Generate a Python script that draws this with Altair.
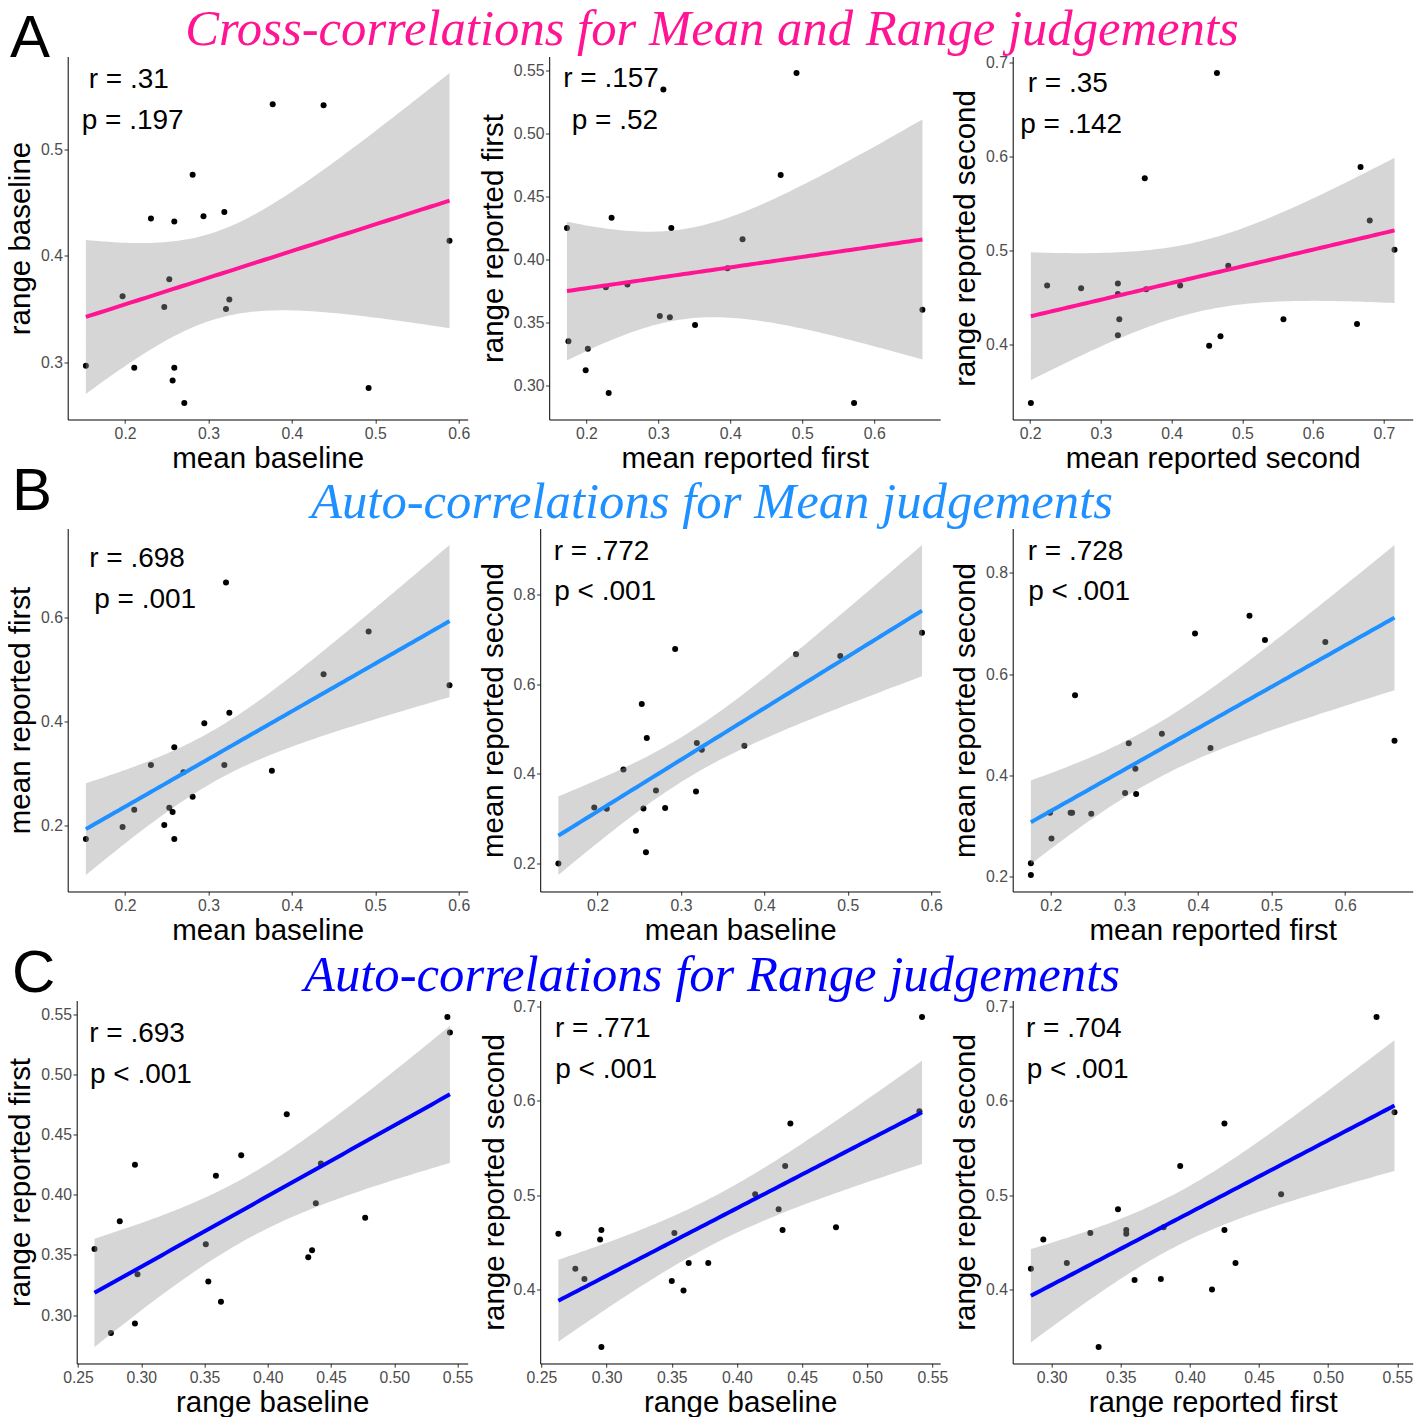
import numpy as np
import pandas as pd
import altair as alt

# ---------------- data ----------------
a1_x = [0.377, 0.438, 0.281, 0.231, 0.259, 0.294, 0.319, 0.589, 0.253, 0.197, 0.247, 0.321, 0.325, 0.153, 0.211, 0.259, 0.257, 0.271, 0.492]
a1_y = [0.542, 0.541, 0.476, 0.435, 0.432, 0.437, 0.441, 0.414, 0.378, 0.362, 0.352, 0.350, 0.359, 0.297, 0.295, 0.295, 0.283, 0.262, 0.276]

a2_x = [0.492, 0.307, 0.470, 0.235, 0.173, 0.318, 0.417, 0.396, 0.227, 0.257, 0.667, 0.302, 0.316, 0.351, 0.175, 0.202, 0.199, 0.231, 0.572]
a2_y = [0.548, 0.535, 0.467, 0.433, 0.425, 0.425, 0.416, 0.393, 0.378, 0.380, 0.360, 0.355, 0.354, 0.348, 0.335, 0.329, 0.312, 0.294, 0.286]

a3_x = [0.464, 0.667, 0.362, 0.680, 0.715, 0.480, 0.224, 0.272, 0.324, 0.324, 0.364, 0.412, 0.326, 0.558, 0.662, 0.324, 0.469, 0.453, 0.201]
a3_y = [0.689, 0.589, 0.577, 0.532, 0.501, 0.484, 0.463, 0.460, 0.465, 0.454, 0.459, 0.463, 0.427, 0.427, 0.422, 0.410, 0.409, 0.399, 0.338]

b1_x = [0.321, 0.492, 0.438, 0.589, 0.325, 0.295, 0.259, 0.231, 0.319, 0.270, 0.376, 0.281, 0.253, 0.211, 0.257, 0.197, 0.247, 0.153, 0.259]
b1_y = [0.667, 0.573, 0.491, 0.470, 0.417, 0.397, 0.351, 0.317, 0.317, 0.303, 0.306, 0.256, 0.235, 0.231, 0.227, 0.198, 0.202, 0.175, 0.175]

b2_x = [0.589, 0.293, 0.438, 0.491, 0.253, 0.259, 0.319, 0.325, 0.376, 0.231, 0.270, 0.318, 0.196, 0.211, 0.255, 0.281, 0.246, 0.258, 0.153]
b2_y = [0.715, 0.679, 0.667, 0.663, 0.556, 0.480, 0.469, 0.454, 0.463, 0.410, 0.363, 0.361, 0.325, 0.322, 0.323, 0.324, 0.273, 0.225, 0.200]

b3_x = [0.470, 0.396, 0.491, 0.573, 0.233, 0.351, 0.306, 0.417, 0.667, 0.315, 0.301, 0.316, 0.199, 0.227, 0.229, 0.255, 0.201, 0.173, 0.173]
b3_y = [0.715, 0.680, 0.667, 0.663, 0.558, 0.482, 0.463, 0.454, 0.468, 0.413, 0.365, 0.363, 0.326, 0.326, 0.326, 0.324, 0.275, 0.226, 0.203]

c1_x = [0.542, 0.544, 0.415, 0.379, 0.295, 0.442, 0.359, 0.438, 0.283, 0.477, 0.263, 0.351, 0.435, 0.432, 0.297, 0.353, 0.363, 0.295, 0.276]
c1_y = [0.548, 0.535, 0.467, 0.433, 0.425, 0.426, 0.416, 0.393, 0.378, 0.381, 0.355, 0.359, 0.354, 0.348, 0.334, 0.328, 0.311, 0.293, 0.285]

c2_x = [0.542, 0.441, 0.540, 0.437, 0.414, 0.432, 0.476, 0.435, 0.263, 0.296, 0.295, 0.352, 0.363, 0.378, 0.276, 0.283, 0.350, 0.359, 0.296]
c2_y = [0.689, 0.576, 0.589, 0.531, 0.501, 0.485, 0.466, 0.463, 0.459, 0.463, 0.453, 0.460, 0.428, 0.428, 0.422, 0.411, 0.409, 0.399, 0.339]

c3_x = [0.535, 0.548, 0.425, 0.393, 0.466, 0.348, 0.425, 0.294, 0.328, 0.354, 0.354, 0.381, 0.311, 0.433, 0.285, 0.360, 0.379, 0.416, 0.334]
c3_y = [0.689, 0.588, 0.576, 0.531, 0.501, 0.485, 0.463, 0.453, 0.460, 0.463, 0.459, 0.466, 0.428, 0.428, 0.422, 0.410, 0.411, 0.400, 0.339]

r_labels = ["r = .31", "r = .157", "r = .35", "r = .698", "r = .772", "r = .728", "r = .693", "r = .771", "r = .704"]
p_labels = ["p = .197", "p = .52", "p = .142", "p = .001", "p < .001", "p < .001", "p < .001", "p < .001", "p < .001"]

x_titles = ["mean baseline", "mean reported first", "mean reported second",
            "mean baseline", "mean baseline", "mean reported first",
            "range baseline", "range baseline", "range reported first"]
y_titles = ["range baseline", "range reported first", "range reported second",
            "mean reported first", "mean reported second", "mean reported second",
            "range reported first", "range reported second", "range reported second"]

row_titles = ["Cross-correlations for Mean and Range judgements",
              "Auto-correlations for Mean judgements",
              "Auto-correlations for Range judgements"]
row_letters = ["A", "B", "C"]

ticks_tenths_6 = [0.2, 0.3, 0.4, 0.5, 0.6]
ticks_tenths_7 = [0.2, 0.3, 0.4, 0.5, 0.6, 0.7]
ticks_y_a1 = [0.3, 0.4, 0.5]
ticks_twentieths = [0.25, 0.30, 0.35, 0.40, 0.45, 0.50, 0.55]
ticks_fifths = [0.2, 0.4, 0.6, 0.8]
ticks_y_upper = [0.4, 0.5, 0.6, 0.7]

# ---------------- styling / layout ----------------
W, H = 400, 363
T_CRIT = 2.109816  # t quantile 0.975, df = 17
row_colors = ["#FF1493", "#1E90FF", "#0000FF"]

panels = [
    dict(x=a1_x, y=a1_y, xt=ticks_tenths_6, xf=".1f", yt=ticks_y_a1, yf=".1f", xoff=0, ytx=-38, r=(21, 31.5), p=(14, 72)),
    dict(x=a2_x, y=a2_y, xt=ticks_tenths_6, xf=".1f", yt=ticks_twentieths, yf=".2f", xoff=9, ytx=-47, r=(14, 30.5), p=(22.5, 72)),
    dict(x=a3_x, y=a3_y, xt=ticks_tenths_7, xf=".1f", yt=ticks_y_upper, yf=".1f", xoff=0, ytx=-38.5, r=(15, 35.5), p=(7.5, 76.5)),
    dict(x=b1_x, y=b1_y, xt=ticks_tenths_6, xf=".1f", yt=ticks_fifths, yf=".1f", xoff=0, ytx=-38.5, r=(21.5, 38.8), p=(26.5, 79.8)),
    dict(x=b2_x, y=b2_y, xt=ticks_tenths_6, xf=".1f", yt=ticks_fifths, yf=".1f", xoff=0, ytx=-37.5, r=(13.5, 31.5), p=(14, 71.5)),
    dict(x=b3_x, y=b3_y, xt=ticks_tenths_6, xf=".1f", yt=ticks_fifths, yf=".1f", xoff=0, ytx=-38.5, r=(15, 31.5), p=(15.5, 71.5)),
    dict(x=c1_x, y=c1_y, xt=ticks_twentieths, xf=".2f", yt=ticks_twentieths, yf=".2f", xoff=9, ytx=-47.5, r=(12.5, 41.2), p=(13.3, 82.8)),
    dict(x=c2_x, y=c2_y, xt=ticks_twentieths, xf=".2f", yt=ticks_y_upper, yf=".1f", xoff=0, ytx=-37, r=(14.7, 36.2), p=(15, 77.2)),
    dict(x=c3_x, y=c3_y, xt=ticks_twentieths, xf=".2f", yt=ticks_y_upper, yf=".1f", xoff=0, ytx=-38.5, r=(13.3, 36.2), p=(14, 77.2)),
]
letter_pos = [(-57.7, 0.5), (-55.7, -18.5), (-55.7, -8.5)]
title_pos = [(171.8, -11.5), (171.8, -10.5), (171.8, -9.0)]


def smooth(x, y, n=80):
    x = np.asarray(x, float)
    y = np.asarray(y, float)
    b1, b0 = np.polyfit(x, y, 1)
    xg = np.linspace(x.min(), x.max(), n)
    fit = b0 + b1 * xg
    resid = y - (b0 + b1 * x)
    s = np.sqrt((resid ** 2).sum() / (len(x) - 2))
    se = s * np.sqrt(1.0 / len(x) + (xg - x.mean()) ** 2 / ((x - x.mean()) ** 2).sum())
    return pd.DataFrame({"x": xg, "fit": fit, "lo": fit - T_CRIT * se, "hi": fit + T_CRIT * se})


def text_layer(txt, px, py, size, color="black", font="Liberation Sans", style="normal", align="left"):
    return alt.Chart(pd.DataFrame({"t": [txt]})).mark_text(
        font=font, fontSize=size, color=color, fontStyle=style, align=align, baseline="alphabetic"
    ).encode(x=alt.value(px), y=alt.value(py), text="t:N")


charts = []
for i, p in enumerate(panels):
    row = i // 3
    col = i % 3
    pts = pd.DataFrame({"x": p["x"], "y": p["y"]})
    sm = smooth(p["x"], p["y"])
    xmin, xmax = min(p["x"]), max(p["x"])
    xpad = 0.05 * (xmax - xmin)
    ymin = min(min(p["y"]), sm["lo"].min())
    ymax = max(max(p["y"]), sm["hi"].max())
    ypad = 0.05 * (ymax - ymin)
    xdom = [xmin - xpad, xmax + xpad]
    ydom = [ymin - ypad, ymax + ypad]
    xt = [v for v in p["xt"] if xdom[0] <= v <= xdom[1]]
    yt = [v for v in p["yt"] if ydom[0] <= v <= ydom[1]]

    if p["xoff"]:
        xs = alt.Scale(domain=xdom, nice=False, zero=False, range=[p["xoff"], W])
    else:
        xs = alt.Scale(domain=xdom, nice=False, zero=False)
    ys = alt.Scale(domain=ydom, nice=False, zero=False)

    xaxis = alt.Axis(values=xt, format=p["xf"], title=x_titles[i], titleY=48,
                     titleBaseline="alphabetic", labelPadding=3.5)
    yaxis = alt.Axis(values=yt, format=p["yf"], title=y_titles[i], titleX=p["ytx"], titleY=H / 2,
                     titleBaseline="alphabetic", titleAlign="center", titleAngle=-90,
                     labelPadding=1.5, offset=-p["xoff"])

    points = alt.Chart(pts).mark_circle(size=36, color="black", opacity=1).encode(
        x=alt.X("x:Q", scale=xs, axis=xaxis), y=alt.Y("y:Q", scale=ys, axis=yaxis))
    band = alt.Chart(sm).mark_area(color="#999999", opacity=0.4).encode(
        x=alt.X("x:Q", scale=xs, axis=xaxis), y=alt.Y("lo:Q", scale=ys, axis=yaxis), y2="hi:Q")
    line = alt.Chart(sm).mark_line(color=row_colors[row], strokeWidth=4).encode(
        x=alt.X("x:Q", scale=xs, axis=xaxis), y=alt.Y("fit:Q", scale=ys, axis=yaxis))

    layers = [points, band, line,
              text_layer(r_labels[i], p["xoff"] + p["r"][0], p["r"][1], 28),
              text_layer(p_labels[i], p["xoff"] + p["p"][0], p["p"][1], 28)]
    if col == 0:
        lx, ly = letter_pos[row]
        layers.append(text_layer(row_letters[row], lx, ly, 60))
    if col == 1:
        tx, ty = title_pos[row]
        layers.append(text_layer(row_titles[row], tx, ty, 50.7, color=row_colors[row],
                                 font="Liberation Serif", style="italic", align="center"))
    charts.append(alt.layer(*layers).properties(width=W, height=H))

chart = alt.concat(*charts, columns=3, spacing={"row": 109, "column": 72.5}, bounds="flush").properties(
    autosize=alt.AutoSizeParams(type="none"),
    padding={"left": 59.7, "top": 48.5, "right": 1350, "bottom": 1360},
).configure_view(stroke=None).configure_axis(
    grid=False,
    domainColor="black",
    domainWidth=1,
    tickColor="#333333",
    tickSize=3.7,
    labelFont="Liberation Sans",
    labelFontSize=15.8,
    labelColor="#4D4D4D",
    titleFont="Liberation Sans",
    titleFontSize=29.5,
    titleFontWeight="normal",
    titleColor="black",
)

chart.save("out.html", embed_options={"renderer": "svg", "actions": False})
